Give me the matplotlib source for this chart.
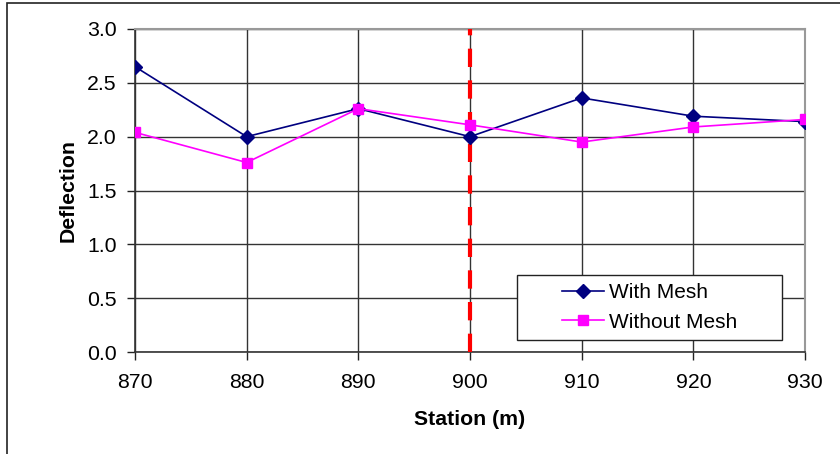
import numpy as np
import matplotlib
matplotlib.use("Agg")
import matplotlib.pyplot as plt
from matplotlib.patches import Rectangle

plt.rcParams["font.family"] = ["Liberation Sans", "DejaVu Sans"]

# data
station = [870, 880, 890, 900, 910, 920, 930]
with_mesh = [2.65, 2.00, 2.26, 2.00, 2.36, 2.19, 2.14]
without_mesh = [2.04, 1.76, 2.26, 2.11, 1.95, 2.09, 2.16]
marker_station = 900
yticks = [0.0, 0.5, 1.0, 1.5, 2.0, 2.5, 3.0]
xticks = [870, 880, 890, 900, 910, 920, 930]

W, H = 840, 454
fig = plt.figure(figsize=(W/100, H/100), dpi=100)
ax = fig.add_axes([135/W, 1-352/H, (805-135)/W, (352-29)/H])

# outer chart frame (only left/top visible in the crop)
fig.add_artist(Rectangle((7/W, -0.1), 1.2, 1-3/H+0.1, transform=fig.transFigure,
                         fill=False, ec="#222222", lw=1.2))

ax.plot(station, with_mesh, color="#000080", lw=1.2, marker="D", ms=7,
        mfc="#000080", mec="#000080", label="With Mesh", zorder=4)
ax.plot(station, without_mesh, color="#FF00FF", lw=1.2, marker="s", ms=7.5,
        mfc="#FF00FF", mec="#FF00FF", label="Without Mesh", zorder=5)
ax.axvline(marker_station, color="#FF0000", lw=3, ls=(0, (4.4, 3.2)), zorder=3)

ax.set_xlim(870, 930)
ax.set_ylim(0, 3.0)
ax.set_xticks(xticks)
ax.set_yticks(yticks)
ax.set_yticklabels([f"{v:.1f}" for v in yticks])
ax.grid(True, color="#333333", lw=1.0, zorder=1)
ax.set_axisbelow(True)
ax.tick_params(labelsize=15.3, length=6, width=1, color="#222222")
ax.tick_params(axis="x", pad=9)
ax.tick_params(axis="y", pad=7)
for s in ["top", "right"]:
    ax.spines[s].set_color("#999999")
    ax.spines[s].set_linewidth(1.5)
for s in ["left", "bottom"]:
    ax.spines[s].set_color("#333333")
    ax.spines[s].set_linewidth(1.2)

ax.set_xlabel("Station (m)", fontsize=15.3, fontweight="bold", labelpad=13)
ax.set_ylabel("Deflection", fontsize=15.3, fontweight="bold", labelpad=7)

# legend box drawn separately, contents centered in it
fig.add_artist(Rectangle((517/W, 1-340/H), (782-517)/W, (340-275)/H,
                         transform=fig.transFigure, fc="white", ec="#222222",
                         lw=1.0, zorder=6))
leg = fig.legend(loc="center", bbox_to_anchor=(649.5/W, 1-307.5/H), frameon=False,
                 fontsize=15, handlelength=2.0, handletextpad=0.25,
                 labelspacing=0.5, borderpad=0)
leg.set_zorder(7)

fig.savefig("out.png", dpi=100)
